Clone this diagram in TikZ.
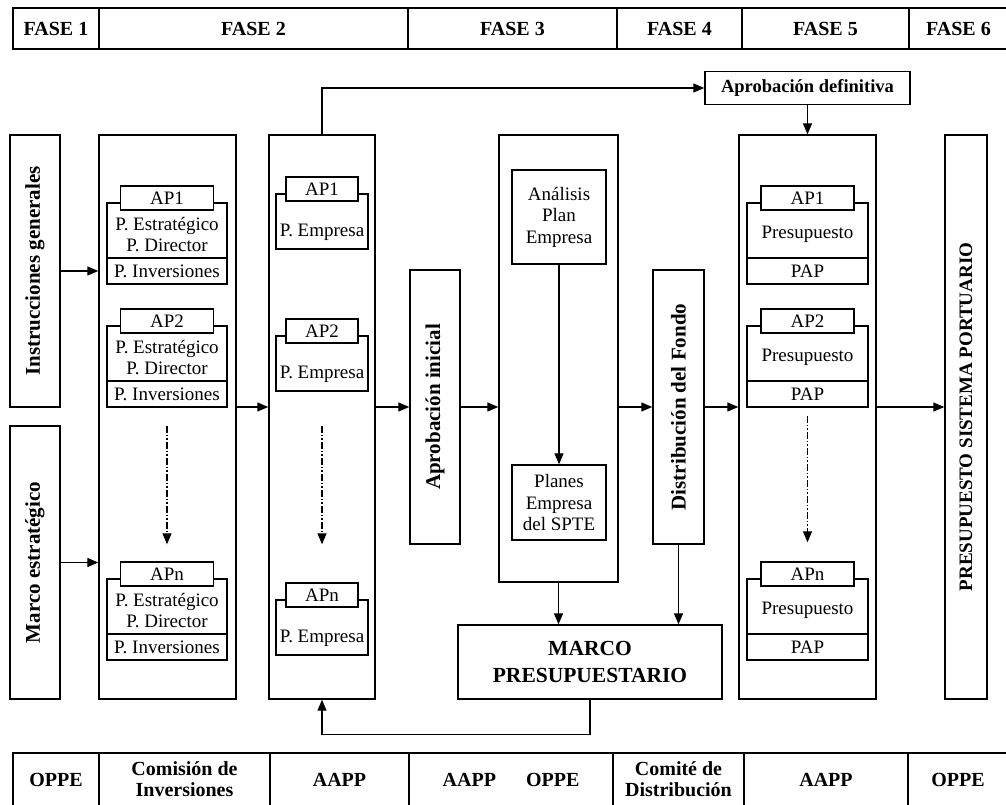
\documentclass[tikz,border=0pt]{standalone}
\usepackage{fontspec}
\setmainfont{Liberation Serif}
\usepackage{graphicx}
\usepackage{tikz}
\usetikzlibrary{arrows.meta, positioning, calc}
\newcommand\letra{\fontsize{19}{21.5}\selectfont}
\newcommand\rotulo{\fontsize{21}{25}\selectfont\bfseries}
\newcommand\fbarra{\fontsize{20}{21}\selectfont\bfseries}

\begin{document}
\begin{tikzpicture}[x=1pt, y=-1pt,
    caja/.style={draw, line width=1.4pt, inner sep=0pt, align=center, font=\letra},
    pestana/.style={caja, fill=white, minimum height=24pt},
    celda/.style={caja, font=\fbarra},
    flecha/.style={line width=1.3pt, -{Triangle[length=11pt, width=9pt]}},
    punteada/.style={line width=1.1pt, dash pattern=on 7pt off 2pt on 1.5pt off 2pt on 1.5pt off 2pt,
      -{Triangle[length=11pt, width=9pt]}}]
  \clip (0,0) rectangle (1006,805);
  % fases y organismos
  \foreach \i/\a/\b in {1/13/99, 2/99/408, 3/408/617, 4/617/742, 5/742/909, 6/909/1008} {
    \pgfmathsetmacro\w{\b-\a}
    \pgfmathsetmacro\c{(\a+\b)/2}
    \node[celda, minimum width=\w pt, minimum height=41pt] (fase\i) at (\c, 28.5) {FASE \i};
  }
  \foreach \i/\a/\b/\t in {1/13/99/OPPE, 2/99/270/{Comisión de\\Inversiones}, 3/270/409/AAPP,
      4/409/613/{AAPP\hspace{30pt}OPPE}, 5/613/744/{Comité de\\Distribución}, 6/744/908/AAPP,
      7/908/1008/OPPE} {
    \pgfmathsetmacro\w{\b-\a}
    \pgfmathsetmacro\c{(\a+\b)/2}
    \node[celda, minimum width=\w pt, minimum height=53pt] (org\i) at (\c, 779.5) {\t};
  }

  % entradas
  \node[caja, minimum width=50pt, minimum height=272pt] (instr) at (35,271)
    {\rotatebox{90}{\rotulo Instrucciones generales}};
  \node[caja, minimum width=50pt, minimum height=273pt] (marco) at (35,562.5)
    {\rotatebox{90}{\rotulo Marco estratégico}};

  % columnas
  \node[caja, minimum width=137pt, minimum height=564pt] (comision) at (167.5,417) {};
  \node[caja, minimum width=106pt, minimum height=564pt] (empresas) at (322,417) {};
  \node[caja, minimum width=50pt, minimum height=274pt] (aprobinic) at (435,407)
    {\rotatebox{90}{\rotulo Aprobación inicial}};
  \node[caja, minimum width=119pt, minimum height=447pt] (analisis) at (558.5,358.5) {};
  \node[caja, minimum width=94pt, minimum height=94pt] (plan) at (559,217) {Análisis\\Plan\\Empresa};
  \node[caja, minimum width=94pt, minimum height=75pt] (spte) at (559,502.5) {Planes\\Empresa\\del SPTE};
  \node[caja, minimum width=51pt, minimum height=274pt] (fondo) at (678.5,407)
    {\rotatebox{90}{\rotulo Distribución del Fondo}};
  \node[caja, minimum width=264pt, minimum height=74pt, font=\fontsize{21.5}{27}\selectfont\bfseries]
    (marcop) at (590,662) {MARCO\\PRESUPUESTARIO};
  \node[caja, minimum width=205pt, minimum height=33pt, font=\fontsize{18.5}{21}\selectfont\bfseries]
    (aprobdef) at (807.5,88) {Aprobación definitiva};
  \node[caja, minimum width=137pt, minimum height=564pt] (presup) at (807.5,417) {};
  \node[caja, minimum width=42pt, minimum height=564pt] (sistema) at (966,417)
    {\rotatebox{90}{\fontsize{19}{22}\selectfont\bfseries PRESUPUESTO SISTEMA PORTUARIO}};

  % autoridades portuarias
  \foreach \n/\t in {1/186, 2/309, n/562} {
    \node[caja, minimum width=120pt, minimum height=81pt] (cbody\n) at (167,\t+57.5) {};
    \node[caja, minimum width=120pt, minimum height=26pt, anchor=south] (cinv\n) at (cbody\n.south) {P. Inversiones};
    \node[pestana, minimum width=93pt] (ctab\n) at (167,\t+12) {AP\n};
    \node[align=center, font=\letra] (ctxt\n) at (167,\t+48.5) {P. Estratégico\\P. Director};
    \node[caja, minimum width=121pt, minimum height=81pt] (pbody\n) at (807.5,\t+57.5) {};
    \node[caja, minimum width=121pt, minimum height=26pt, anchor=south] (ppap\n) at (pbody\n.south) {PAP};
    \node[pestana, minimum width=93pt] (ptab\n) at (807.5,\t+12) {AP\n};
    \node[font=\letra] (ptxt\n) at (807.5,\t+48) {Presupuesto};
  }
  \foreach \n/\t in {1/177, 2/319, n/583} {
    \node[caja, minimum width=92pt, minimum height=55pt] (ebody\n) at (322,\t+44.5) {};
    \node[pestana, minimum width=72pt] (etab\n) at (322,\t+12) {AP\n};
    \node[font=\letra] (etxt\n) at (322,\t+55) {P. Empresa};
  }
  \draw[punteada, shorten <=18pt, shorten >=17pt] (cinv2.south) -- (ctabn.north);
  \draw[punteada, shorten <=34pt, shorten >=38pt] (ebody2.south) -- (etabn.north);
  \draw[punteada, shorten <=8pt, shorten >=19pt] (ppap2.south) -- (ptabn.north);

  % flujo
  \coordinate (eje) at (0,407);
  \draw[flecha] (instr) -- (comision.west |- instr);
  \draw[flecha] (marco) -- (comision.west |- marco);
  \draw[flecha] (comision.east |- eje) -- (empresas.west |- eje);
  \draw[flecha] (empresas.east |- eje) -- (aprobinic);
  \draw[flecha] (aprobinic) -- (analisis.west |- aprobinic);
  \draw[flecha] (analisis.east |- fondo) -- (fondo);
  \draw[flecha] (fondo) -- (presup.west |- fondo);
  \draw[flecha] (presup.east |- eje) -- (sistema.west |- eje);
  \draw[flecha] (empresas.north) |- (aprobdef);
  \draw[flecha] (aprobdef) -- (presup);
  \draw[flecha] (plan) -- (spte);
  \draw[flecha] (analisis.south) -- (analisis.south |- marcop.north);
  \draw[flecha] (fondo) -- (fondo |- marcop.north);
  \draw[flecha] (marcop.south) -- ++(0,35) -| (empresas.south);
\end{tikzpicture}
\end{document}
